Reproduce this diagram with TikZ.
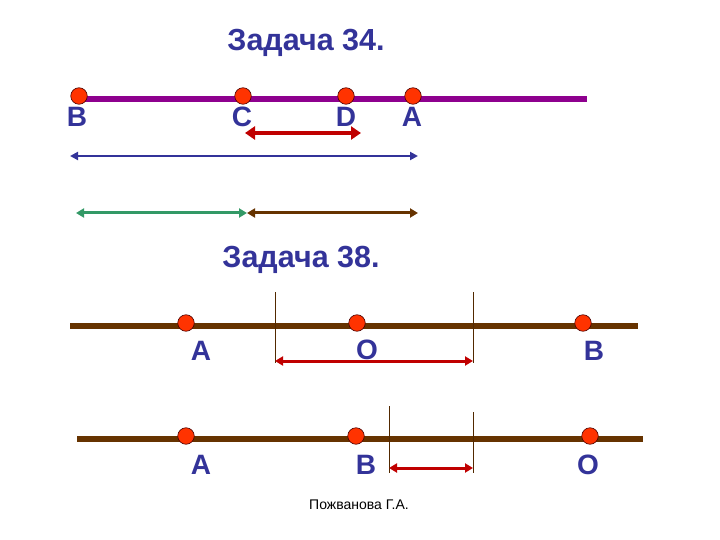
\documentclass[tikz,border=0pt]{standalone}
\usepackage{fontspec}
\setmainfont{Liberation Sans}
\usetikzlibrary{arrows.meta}
\definecolor{tblue}{HTML}{333399}
\definecolor{tpurple}{HTML}{8E008E}
\definecolor{tred}{HTML}{C00000}
\definecolor{tdot}{HTML}{FF3300}
\definecolor{tgreen}{HTML}{339966}
\definecolor{tbrown}{HTML}{663300}
\tikzset{
  title/.style={text=tblue, font=\fontsize{30.5}{32}\selectfont\bfseries, inner sep=0pt},
  lbl/.style={text=tblue, font=\fontsize{28}{30}\selectfont\bfseries, inner sep=0pt},
  pt/.style={circle, fill=tdot, draw=black!70!red, line width=0.6pt, minimum size=16.5pt, inner sep=0pt},
  axis/.style={line width=6pt},
  bigarr/.style={tred, line width=3.5pt, {Triangle[length=10pt,width=13pt]}-{Triangle[length=10pt,width=13pt]}},
  midarr/.style={line width=3pt, {Triangle[length=8pt,width=9pt]}-{Triangle[length=8pt,width=9pt]}},
  thinarr/.style={line width=2pt, {Triangle[length=8pt,width=8pt]}-{Triangle[length=8pt,width=8pt]}},
  tick/.style={tbrown!80!black, line width=0.8pt}
}
\begin{document}
\begin{tikzpicture}[x=1pt,y=-1pt]
\useasboundingbox (0,0) rectangle (720,540);
% Task 34
\node[title] (t34) at (306,43) {Задача 34.};
\coordinate (l1s) at (78,99);
\coordinate (l1e) at (587,99);
\draw[axis, tpurple] (l1s) -- (l1e);
\node[pt] (pB) at (79,96) {};
\node[pt] (pC) at (243,96) {};
\node[pt] (pD) at (346,96) {};
\node[pt] (pA) at (413,96) {};
\node[lbl] (lB) at (77,117) {B};
\node[lbl] (lC) at (242,117) {C};
\node[lbl] (lD) at (346,117) {D};
\node[lbl] (lA) at (412,117) {A};
\coordinate (r1a) at (245,133); \coordinate (r1b) at (361,133);
\draw[bigarr] (r1a) -- (r1b);
\coordinate (b1a) at (70,156); \coordinate (b1b) at (418,156);
\draw[thinarr, tblue] (b1a) -- (b1b);
\coordinate (g1a) at (76,213); \coordinate (g1b) at (247,213); \coordinate (g1c) at (418,213);
\draw[midarr, tgreen] (g1a) -- (g1b);
\draw[midarr, tbrown] (g1b) -- (g1c);
% Task 38
\node[title] (t38) at (301,260) {Задача 38.};
\coordinate (l2s) at (70,326);
\coordinate (l2e) at (638,326);
\draw[axis, tbrown] (l2s) -- (l2e);
\coordinate (v1t) at (275,292); \coordinate (v1b) at (275,363);
\coordinate (v2t) at (473,292); \coordinate (v2b) at (473,363);
\draw[tick] (v1t) -- (v1b);
\draw[tick] (v2t) -- (v2b);
\node[pt] (qA) at (186,323) {};
\node[pt] (qO) at (357,323) {};
\node[pt] (qB) at (583,323) {};
\node[lbl] (mA) at (201,351) {A};
\node[lbl] (mO) at (367,350) {O};
\node[lbl] (mB) at (594,351) {B};
\coordinate (r2a) at (275,361); \coordinate (r2b) at (473,361);
\draw[midarr, tred] (r2a) -- (r2b);
% second line
\coordinate (l3s) at (77,439);
\coordinate (l3e) at (643,439);
\draw[axis, tbrown] (l3s) -- (l3e);
\coordinate (w1t) at (389,406); \coordinate (w1b) at (389,473);
\coordinate (w2t) at (473,412); \coordinate (w2b) at (473,473);
\draw[tick] (w1t) -- (w1b);
\draw[tick] (w2t) -- (w2b);
\node[pt] (sA) at (186,436) {};
\node[pt] (sB) at (356,436) {};
\node[pt] (sO) at (590,436) {};
\node[lbl] (nA) at (201,465) {A};
\node[lbl] (nB) at (366,465) {B};
\node[lbl] (nO) at (588,465) {O};
\coordinate (r3a) at (389,468); \coordinate (r3b) at (473,468);
\draw[midarr, tred] (r3a) -- (r3b);
% footer
\node[font=\fontsize{14}{16}\selectfont, inner sep=0pt] (foot) at (359,505) {Пожванова Г.А.};
\end{tikzpicture}
\end{document}
